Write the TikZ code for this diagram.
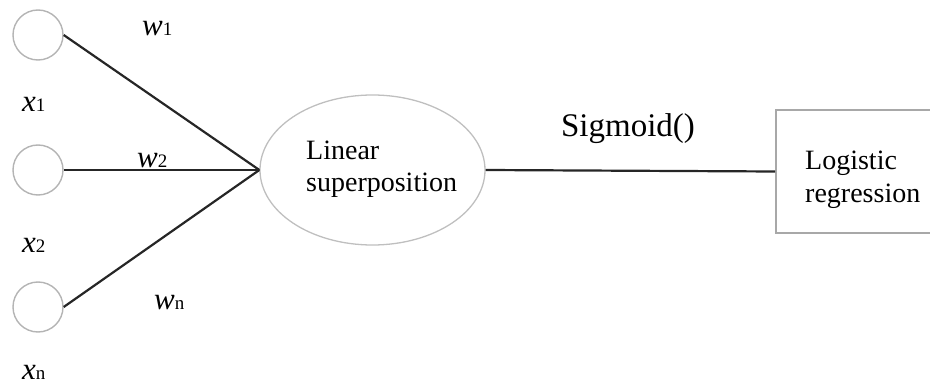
\documentclass[tikz,border=0pt]{standalone}
\usepackage{fontspec}
\setmainfont{Liberation Serif}[
  ItalicFont={Liberation Serif Italic},
  BoldFont={Liberation Serif Bold}]
\usetikzlibrary{shapes.geometric}

\definecolor{ringgray}{HTML}{B4B4B4}
\definecolor{edgegray}{HTML}{A8A8A8}
\definecolor{wiregray}{HTML}{262626}

% variable label: italic letter with a small upright index on the baseline
\newcommand{\varlab}[2]{{\fontsize{31}{31}\selectfont\itshape #1}{\fontsize{19}{19}\selectfont #2}}

\begin{document}
\begin{tikzpicture}[x=1pt,y=-1pt,
  inputnode/.style={circle,draw=ringgray,line width=1.4pt,minimum size=50pt,inner sep=0pt},
  sumnode/.style={ellipse,draw=ringgray!85,line width=1.3pt,minimum width=225pt,minimum height=150pt,inner sep=0pt},
  outbox/.style={rectangle,draw=edgegray,line width=1.8pt,minimum width=190pt,minimum height=123pt,inner sep=0pt},
  wire/.style={draw=wiregray,line width=2.2pt},
  lab/.style={inner sep=0pt,anchor=base west},
  body/.style={inner sep=0pt,anchor=base west,font=\fontsize{28}{32}\selectfont}]
  \useasboundingbox (0,0) rectangle (930,385);
  \clip (0,0) rectangle (930,385);

  % inputs
  \node[inputnode] (c1) at (38,35) {};
  \node[inputnode] (c2) at (38,170) {};
  \node[inputnode] (c3) at (38,307) {};

  % summation unit
  \node[sumnode] (sum) at (372.5,170) {};
  \node[body] (sumtxtA) at (306,160) {Linear};
  \node[body] (sumtxtB) at (306,192) {superposition};

  % output unit (extends past the right edge)
  \node[outbox] (out) at (871,171.5) {};
  \node[body] (outtxtA) at (805,170) {Logistic};
  \node[body] (outtxtB) at (805,203) {regression};

  % connections
  \draw[wire] (c1.east) -- (sum.west);
  \draw[wire] (c2.east) -- (sum.west);
  \draw[wire] (c3.east) -- (sum.west);
  \draw[wire] (sum.east) -- (out.west);

  % labels
  \node[lab] (w1) at (142,36) {\varlab{w}{1}};
  \node[lab] (w2) at (137,168) {\varlab{w}{2}};
  \node[lab] (wn) at (154,309) {\varlab{w}{n}};
  \node[lab] (x1) at (22,112) {\varlab{x}{1}};
  \node[lab] (x2) at (22,252) {\varlab{x}{2}};
  \node[lab] (xn) at (22,379) {\varlab{x}{n}};
  \node[inner sep=0pt,anchor=base,font=\fontsize{33}{33}\selectfont] (sig) at (628,137) {Sigmoid()};
\end{tikzpicture}
\end{document}
